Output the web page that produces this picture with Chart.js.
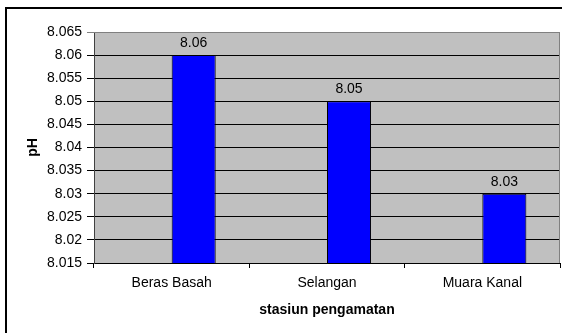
<!DOCTYPE html>
<html>
<head>
<meta charset="utf-8">
<script src="https://cdn.jsdelivr.net/npm/chart.js@4.4.1/dist/chart.umd.min.js"></script>
<style>
  html, body { margin: 0; padding: 0; background: #fff; overflow: hidden; }
  #wrap { position: relative; width: 562px; height: 333px; }
</style>
</head>
<body>
<div id="wrap"><canvas id="grafik" width="562" height="333"></canvas></div>
<script>
// --- Datos ---
const stasiun = ['Beras Basah', 'Selangan', 'Muara Kanal'];
const nilaiPH = [8.06, 8.05, 8.03];
const kosong = [null, null, null]; // serie vacia (hueco a la izquierda de cada barra)
const ticksY = [8.015, 8.02, 8.025, 8.03, 8.035, 8.04, 8.045, 8.05, 8.055, 8.06, 8.065];

const fuente = "'Liberation Sans', Arial, sans-serif";

// fondo gris del area de grafica + marco exterior
const fondoPlot = {
  id: 'fondoPlot',
  beforeDraw(chart) {
    const { ctx, chartArea: a } = chart;
    ctx.save();
    ctx.fillStyle = '#c0c0c0';
    ctx.fillRect(a.left, a.top, a.right - a.left, a.bottom - a.top);
    ctx.strokeStyle = '#000';
    ctx.lineWidth = 2;
    ctx.strokeRect(6, 8, 700, 500);
    ctx.restore();
  },
  afterDatasetsDraw(chart) {
    const { ctx, chartArea: a } = chart;
    ctx.save();
    ctx.strokeStyle = '#808080';
    ctx.lineWidth = 1;
    ctx.beginPath();
    ctx.moveTo(a.left, a.top + 0.5);
    ctx.lineTo(a.right - 0.5, a.top + 0.5);
    ctx.lineTo(a.right - 0.5, a.bottom);
    ctx.stroke();
    ctx.restore();
  }
};

// etiquetas encima de cada barra
const etiquetas = {
  id: 'etiquetas',
  afterDatasetsDraw(chart) {
    const { ctx } = chart;
    const meta = chart.getDatasetMeta(1);
    ctx.save();
    ctx.font = '14px ' + fuente;
    ctx.fillStyle = '#000';
    ctx.textAlign = 'center';
    ctx.textBaseline = 'middle';
    meta.data.forEach((bar, i) => {
      ctx.fillText(String(nilaiPH[i]), bar.x, bar.y - 12);
    });
    ctx.restore();
  }
};

new Chart(document.getElementById('grafik'), {
  type: 'bar',
  data: {
    labels: stasiun,
    datasets: [
      { label: '', data: kosong },
      {
        label: 'pH',
        data: nilaiPH,
        backgroundColor: '#0000ff',
        borderColor: '#000',
        borderWidth: 1
      }
    ]
  },
  options: {
    responsive: false,
    animation: false,
    devicePixelRatio: 1,
    layout: { padding: { top: 32, right: 2, bottom: 0, left: 0 } },
    datasets: { bar: { categoryPercentage: 0.567, barPercentage: 1 } },
    plugins: {
      legend: { display: false },
      tooltip: { enabled: false }
    },
    scales: {
      x: {
        offset: true,
        grid: { offset: true, drawOnChartArea: false, color: '#000', tickLength: 5 },
        border: { color: '#000' },
        ticks: { color: '#000', padding: 7, maxRotation: 0, autoSkip: false, font: { family: fuente, size: 14 } },
        title: {
          display: true,
          text: 'stasiun pengamatan',
          color: '#000',
          font: { family: fuente, size: 14, weight: 'bold' },
          padding: { top: 0, bottom: 14 }
        },
        afterFit: (s) => { s.height = 70; }
      },
      y: {
        min: 8.015,
        max: 8.065,
        afterBuildTicks: (s) => { s.ticks = ticksY.map(v => ({ value: v })); },
        grid: {
          color: (c) => (c.tick && c.tick.value === 8.065 ? '#808080' : '#000'),
          tickLength: 7
        },
        border: { color: '#404040' },
        ticks: {
          color: '#000',
          padding: 5,
          autoSkip: false,
          font: { family: fuente, size: 14 },
          callback: (v) => String(parseFloat(Number(v).toFixed(3)))
        },
        title: {
          display: true,
          text: 'pH',
          color: '#000',
          font: { family: fuente, size: 14, weight: 'bold' },
          padding: { top: 25, bottom: 0 }
        },
        afterFit: (s) => { s.width = 94; }
      }
    }
  },
  plugins: [fondoPlot, etiquetas]
});
</script>
</body>
</html>
